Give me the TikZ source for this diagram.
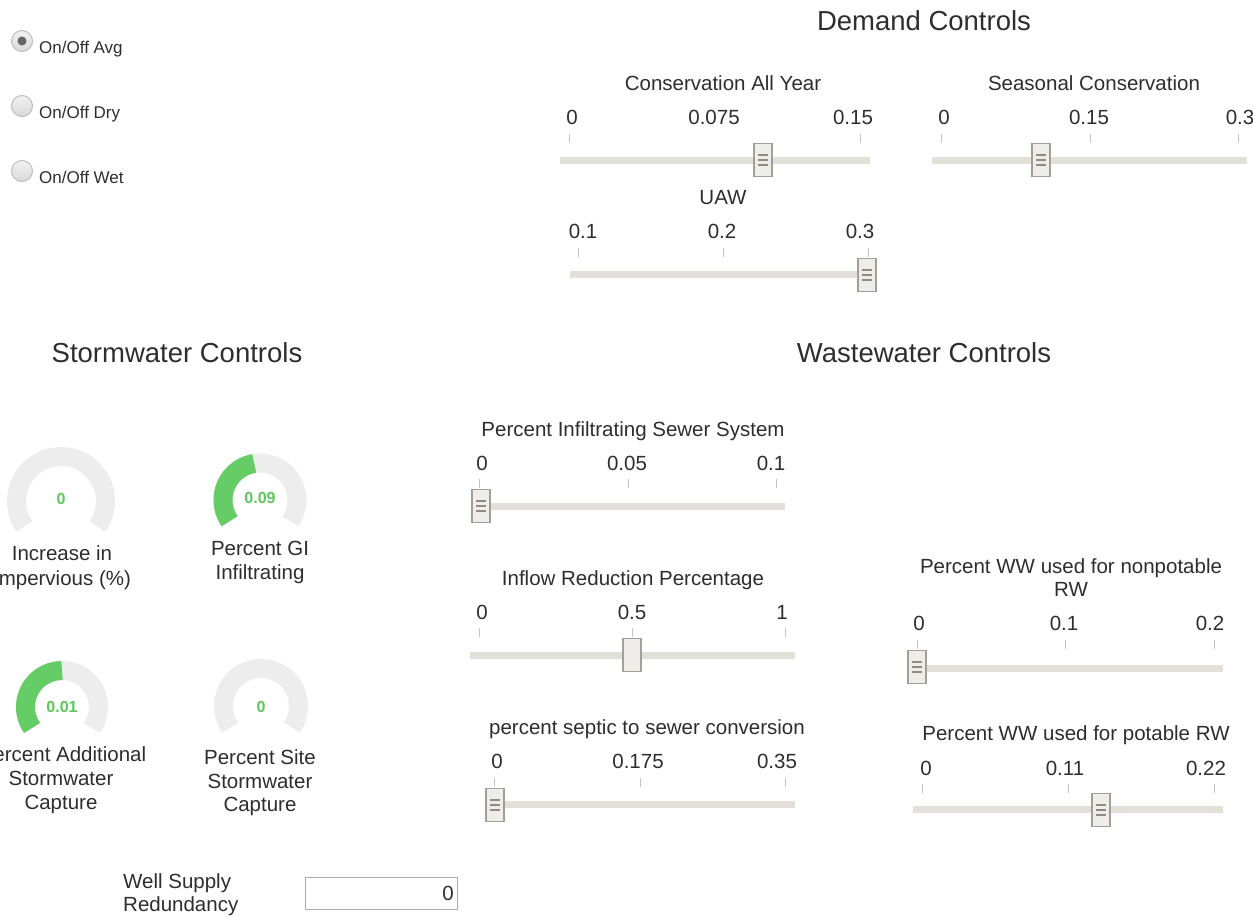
\documentclass[tikz,border=0pt]{standalone}
\usepackage{fontspec}
\setmainfont{Liberation Sans}
\usetikzlibrary{calc}

\definecolor{ink}{HTML}{2E2E2E}
\definecolor{trackc}{HTML}{E3DFD9}
\definecolor{knobfill}{HTML}{EFEDE9}
\definecolor{knobline}{HTML}{A39E97}
\definecolor{gripc}{HTML}{8F8A84}
\definecolor{tickc}{HTML}{C4C4C4}
\definecolor{dialgray}{HTML}{EDEDED}
\definecolor{dialgreen}{HTML}{66CC66}
\definecolor{gvalc}{HTML}{5CC75C}
\definecolor{radioline}{HTML}{BDBDBD}
\definecolor{radiotop}{HTML}{F2F2F2}
\definecolor{radiobot}{HTML}{D9D9D9}
\definecolor{boxline}{HTML}{ABABAB}

\tikzset{
  title/.style={font=\fontsize{27.5}{33}\selectfont, text=ink, inner sep=0pt, anchor=base},
  lbl/.style={font=\fontsize{20.5}{24}\selectfont, text=ink, inner sep=0pt, anchor=base},
  lblw/.style={lbl, anchor=base west},
  radiolbl/.style={font=\fontsize{17}{20}\selectfont, text=ink, inner sep=0pt, anchor=base west},
  gval/.style={font=\fontsize{16}{19}\selectfont\bfseries, text=gvalc, inner sep=0pt, anchor=base},
  track/.style={line width=7pt, draw=trackc},
  tickmark/.style={line width=1pt, draw=tickc},
  knob/.style={rectangle, draw=knobline, line width=1.6pt, fill=knobfill,
               minimum width=18pt, minimum height=33pt, inner sep=0pt},
  grip/.style={path picture={
      \foreach \d in {-5,0,5}
        \draw[gripc, line width=1.1pt]
          ([xshift=-5pt,yshift=\d pt]path picture bounding box.center) -- ++(10,0);}},
  radio/.style={circle, minimum size=21pt, inner sep=0pt, draw=radioline,
                line width=1pt, top color=radiotop, bottom color=radiobot},
  ring/.style={line width=19pt},
}

% gauge ring: centre x, centre y, mid radius, colour, end angle
\newcommand{\dialring}[5]{%
  \draw[ring, draw=#4] ($(#1,#2)+(-215:#3)$) arc[start angle=-215, end angle=#5, radius=#3];}

\begin{document}
\begin{tikzpicture}[x=1pt, y=-1pt]
\useasboundingbox (0,0) rectangle (1253,916);
\fill[white] (0,0) rectangle (1253,916);

% ---------------- radio buttons ----------------
\node[radio] (rAvg) at (22,41) {};
\fill[black!60] (rAvg.center) circle (4.5);
\node[radio] (rDry) at (22,106) {};
\node[radio] (rWet) at (22,171) {};
\node[radiolbl] (lAvg) at (39,53) {On/Off Avg};
\node[radiolbl] (lDry) at (39,118) {On/Off Dry};
\node[radiolbl] (lWet) at (39,183) {On/Off Wet};

% ---------------- section titles ----------------
\node[title] (tDemand) at (924,30) {Demand Controls};
\node[title] (tStorm) at (177,362) {Stormwater Controls};
\node[title] (tWaste) at (924,362) {Wastewater Controls};

% ---------------- Conservation All Year ----------------
\node[lbl] (cayT) at (723,90.5) {Conservation All Year};
\node[lbl] (cay0) at (572,124.5) {0};
\node[lbl] (cay1) at (714,124.5) {0.075};
\node[lbl] (cay2) at (853,124.5) {0.15};
\foreach \x in {569,860} \draw[tickmark] (\x,134) -- (\x,143);
\draw[track] (560,160) -- (870,160);
\node[knob,grip] (cayK) at (763,160) {};

% ---------------- Seasonal Conservation ----------------
\node[lbl] (scT) at (1094,90.5) {Seasonal Conservation};
\node[lbl] (sc0) at (944,124.5) {0};
\node[lbl] (sc1) at (1089,124.5) {0.15};
\node[lbl] (sc2) at (1240,124.5) {0.3};
\foreach \x in {941,1090,1238} \draw[tickmark] (\x,134) -- (\x,143);
\draw[track] (932,160) -- (1247,160);
\node[knob,grip] (scK) at (1041,160) {};

% ---------------- UAW ----------------
\node[lbl] (uawT) at (723,204.5) {UAW};
\node[lbl] (uaw0) at (583,238.5) {0.1};
\node[lbl] (uaw1) at (722,238.5) {0.2};
\node[lbl] (uaw2) at (860,238.5) {0.3};
\foreach \x in {578,723,868} \draw[tickmark] (\x,248) -- (\x,257);
\draw[track] (570,274) -- (868,274);
\node[knob,grip] (uawK) at (867,275) {};

% ---------------- Percent Infiltrating Sewer System ----------------
\node[lbl] (pisT) at (633,436.5) {Percent Infiltrating Sewer System};
\node[lbl] (pis0) at (482,470.5) {0};
\node[lbl] (pis1) at (627,470.5) {0.05};
\node[lbl] (pis2) at (771,470.5) {0.1};
\foreach \x in {479,628,776} \draw[tickmark] (\x,479) -- (\x,488);
\draw[track] (472,506) -- (785,506);
\node[knob,grip] (pisK) at (481,506) {};

% ---------------- Inflow Reduction Percentage ----------------
\node[lbl] (irpT) at (633,585.5) {Inflow Reduction Percentage};
\node[lbl] (irp0) at (482,619.5) {0};
\node[lbl] (irp1) at (632,619.5) {0.5};
\node[lbl] (irp2) at (782,619.5) {1};
\foreach \x in {479,632,785} \draw[tickmark] (\x,628) -- (\x,637);
\draw[track] (470,655) -- (795,655);
\node[knob] (irpK) at (632,655) {};

% ---------------- percent septic to sewer conversion ----------------
\node[lbl] (pstT) at (647,734.5) {percent septic to sewer conversion};
\node[lbl] (pst0) at (497,768.5) {0};
\node[lbl] (pst1) at (638,768.5) {0.175};
\node[lbl] (pst2) at (777,768.5) {0.35};
\foreach \x in {494,640,785} \draw[tickmark] (\x,778) -- (\x,787);
\draw[track] (486,804) -- (795,804);
\node[knob,grip] (pstK) at (495,805) {};

% ---------------- Percent WW used for nonpotable RW ----------------
\node[lbl] (npT1) at (1071,573.5) {Percent WW used for nonpotable};
\node[lbl] (npT2) at (1071,596.5) {RW};
\node[lbl] (np0) at (919,630.5) {0};
\node[lbl] (np1) at (1064,630.5) {0.1};
\node[lbl] (np2) at (1210,630.5) {0.2};
\foreach \x in {917,1065,1214} \draw[tickmark] (\x,640) -- (\x,649);
\draw[track] (908,668) -- (1223,668);
\node[knob,grip] (npK) at (917,667) {};

% ---------------- Percent WW used for potable RW ----------------
\node[lbl] (ptT) at (1076,740.5) {Percent WW used for potable RW};
\node[lbl] (pt0) at (926,775.5) {0};
\node[lbl] (pt1) at (1065,775.5) {0.11};
\node[lbl] (pt2) at (1206,775.5) {0.22};
\foreach \x in {922,1068,1214} \draw[tickmark] (\x,784) -- (\x,793);
\draw[track] (913,809) -- (1223,809);
\node[knob,grip] (ptK) at (1101,810) {};

% ---------------- gauges ----------------
\dialring{61}{501}{44.5}{dialgray}{35}
\node[gval] (g1v) at (61,504) {0};
\node[lbl] (g1a) at (62,560.5) {Increase in};
\node[lbl] (g1b) at (62,585.5) {Impervious (\%)};

\dialring{260}{500}{37}{dialgray}{35}
\dialring{260}{500}{37}{dialgreen}{-99}
\node[gval] (g2v) at (260,503) {0.09};
\node[lbl] (g2a) at (260,555.5) {Percent GI};
\node[lbl] (g2b) at (260,579.5) {Infiltrating};

\dialring{62}{707}{36.5}{dialgray}{35}
\dialring{62}{707}{36.5}{dialgreen}{-90}
\node[gval] (g3v) at (62,712) {0.01};
\node[lbl] (g3a) at (63,761.5) {Percent Additional};
\node[lbl] (g3b) at (61,785.5) {Stormwater};
\node[lbl] (g3c) at (61,809.5) {Capture};

\dialring{261}{706}{37.5}{dialgray}{35}
\node[gval] (g4v) at (261,712) {0};
\node[lbl] (g4a) at (260,764.5) {Percent Site};
\node[lbl] (g4b) at (260,788.5) {Stormwater};
\node[lbl] (g4c) at (260,811.5) {Capture};

% ---------------- well supply redundancy ----------------
\node[lblw] (wsA) at (123,888.5) {Well Supply};
\node[lblw] (wsB) at (123,911.5) {Redundancy};
\node[rectangle, draw=boxline, line width=1pt, minimum width=152pt, minimum height=32pt,
      inner sep=0pt] (wsBox) at (381,893) {};
\node[lbl, anchor=base east] (wsVal) at (454,900) {0};
\end{tikzpicture}
\end{document}
